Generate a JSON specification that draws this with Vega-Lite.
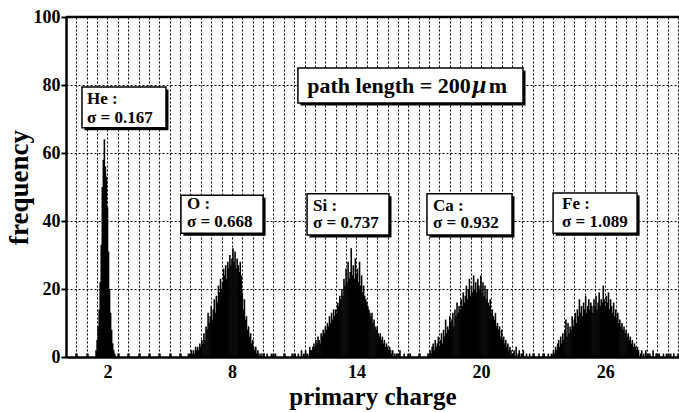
{
  "$schema": "https://vega.github.io/schema/vega-lite/v6.json",
  "width": 613,
  "height": 340,
  "autosize": {"type": "none"},
  "padding": {"left": 66, "top": 17, "right": 0, "bottom": 55},
  "background": "white",
  "config": {
    "view": {"stroke": null},
    "font": "Liberation Serif",
    "axis": {
      "grid": true, "gridDash": [2, 2], "gridColor": "black", "gridOpacity": 1, "gridWidth": 1,
      "tickColor": "black", "domainColor": "black", "domainWidth": 2.5,
      "labelFont": "Liberation Serif", "labelFontWeight": "bold", "labelFontSize": 18, "labelColor": "black",
      "titleFont": "Liberation Serif", "titleFontWeight": "bold", "titleFontSize": 25, "titleColor": "black"
    }
  },
  "datasets": {
    "counts": [
      {"z":1.45,"n":2},{"z":1.5,"n":5},{"z":1.55,"n":9},{"z":1.6,"n":14},{"z":1.65,"n":22},{"z":1.7,"n":33},{"z":1.75,"n":50},{"z":1.8,"n":58},{"z":1.85,"n":64},{"z":1.9,"n":56},{"z":1.95,"n":53},{"z":2.0,"n":44},{"z":2.05,"n":31},{"z":2.1,"n":20},{"z":2.15,"n":13},{"z":2.2,"n":8},{"z":2.25,"n":4},{"z":2.3,"n":2},{"z":2.35,"n":1},
      {"z":5.9,"n":1},{"z":6.0,"n":1},{"z":6.05,"n":2},{"z":6.1,"n":1},{"z":6.15,"n":2},{"z":6.2,"n":1},{"z":6.25,"n":3},{"z":6.3,"n":2},{"z":6.35,"n":3},{"z":6.4,"n":2},{"z":6.45,"n":4},{"z":6.5,"n":3},{"z":6.55,"n":5},{"z":6.6,"n":4},{"z":6.65,"n":7},{"z":6.7,"n":5},{"z":6.75,"n":9},{"z":6.8,"n":8},{"z":6.85,"n":13},{"z":6.9,"n":10},{"z":6.95,"n":12},{"z":7.0,"n":15},{"z":7.05,"n":11},{"z":7.1,"n":14},{"z":7.15,"n":17},{"z":7.2,"n":13},{"z":7.25,"n":18},{"z":7.3,"n":16},{"z":7.35,"n":21},{"z":7.4,"n":19},{"z":7.45,"n":23},{"z":7.5,"n":20},{"z":7.55,"n":22},{"z":7.6,"n":26},{"z":7.65,"n":24},{"z":7.7,"n":27},{"z":7.75,"n":23},{"z":7.8,"n":28},{"z":7.85,"n":26},{"z":7.9,"n":30},{"z":7.95,"n":27},{"z":8.0,"n":29},{"z":8.05,"n":32},{"z":8.1,"n":28},{"z":8.15,"n":31},{"z":8.2,"n":26},{"z":8.25,"n":29},{"z":8.3,"n":27},{"z":8.35,"n":25},{"z":8.4,"n":28},{"z":8.45,"n":24},{"z":8.5,"n":19},{"z":8.55,"n":14},{"z":8.6,"n":17},{"z":8.65,"n":11},{"z":8.7,"n":12},{"z":8.75,"n":8},{"z":8.8,"n":9},{"z":8.85,"n":6},{"z":8.9,"n":7},{"z":8.95,"n":4},{"z":9.0,"n":5},{"z":9.05,"n":3},{"z":9.1,"n":2},{"z":9.15,"n":3},{"z":9.2,"n":1},{"z":9.25,"n":2},{"z":9.3,"n":1},{"z":9.4,"n":1},{"z":9.55,"n":1},{"z":9.7,"n":1},{"z":9.9,"n":1},{"z":10.1,"n":1},
      {"z":10.9,"n":1},{"z":11.05,"n":1},{"z":11.2,"n":1},{"z":11.35,"n":2},{"z":11.45,"n":1},{"z":11.55,"n":2},{"z":11.65,"n":1},{"z":11.75,"n":3},{"z":11.8,"n":2},{"z":11.85,"n":2},{"z":11.9,"n":3},{"z":11.95,"n":4},{"z":12.0,"n":3},{"z":12.05,"n":5},{"z":12.1,"n":4},{"z":12.15,"n":6},{"z":12.2,"n":5},{"z":12.25,"n":4},{"z":12.3,"n":7},{"z":12.35,"n":6},{"z":12.4,"n":8},{"z":12.45,"n":7},{"z":12.5,"n":9},{"z":12.55,"n":8},{"z":12.6,"n":10},{"z":12.65,"n":9},{"z":12.7,"n":12},{"z":12.75,"n":10},{"z":12.8,"n":13},{"z":12.85,"n":11},{"z":12.9,"n":14},{"z":12.95,"n":12},{"z":13.0,"n":14},{"z":13.05,"n":13},{"z":13.1,"n":16},{"z":13.15,"n":15},{"z":13.2,"n":18},{"z":13.25,"n":17},{"z":13.3,"n":20},{"z":13.35,"n":18},{"z":13.4,"n":23},{"z":13.45,"n":21},{"z":13.5,"n":26},{"z":13.55,"n":22},{"z":13.6,"n":28},{"z":13.65,"n":23},{"z":13.7,"n":25},{"z":13.75,"n":32},{"z":13.8,"n":24},{"z":13.85,"n":27},{"z":13.9,"n":23},{"z":13.95,"n":29},{"z":14.0,"n":24},{"z":14.05,"n":26},{"z":14.1,"n":22},{"z":14.15,"n":28},{"z":14.2,"n":21},{"z":14.25,"n":24},{"z":14.3,"n":19},{"z":14.35,"n":21},{"z":14.4,"n":18},{"z":14.45,"n":17},{"z":14.5,"n":16},{"z":14.55,"n":15},{"z":14.6,"n":14},{"z":14.65,"n":13},{"z":14.7,"n":12},{"z":14.75,"n":13},{"z":14.8,"n":10},{"z":14.85,"n":11},{"z":14.9,"n":9},{"z":14.95,"n":8},{"z":15.0,"n":9},{"z":15.05,"n":7},{"z":15.1,"n":6},{"z":15.15,"n":7},{"z":15.2,"n":5},{"z":15.25,"n":6},{"z":15.3,"n":4},{"z":15.35,"n":5},{"z":15.4,"n":3},{"z":15.45,"n":4},{"z":15.5,"n":3},{"z":15.55,"n":2},{"z":15.6,"n":3},{"z":15.65,"n":2},{"z":15.7,"n":1},{"z":15.75,"n":2},{"z":15.85,"n":1},{"z":15.95,"n":1},{"z":16.1,"n":2},{"z":16.3,"n":1},{"z":16.6,"n":1},
      {"z":17.45,"n":1},{"z":17.55,"n":2},{"z":17.6,"n":1},{"z":17.65,"n":3},{"z":17.7,"n":4},{"z":17.75,"n":2},{"z":17.8,"n":5},{"z":17.85,"n":3},{"z":17.9,"n":4},{"z":17.95,"n":6},{"z":18.0,"n":3},{"z":18.05,"n":5},{"z":18.1,"n":7},{"z":18.15,"n":4},{"z":18.2,"n":8},{"z":18.25,"n":6},{"z":18.3,"n":11},{"z":18.35,"n":7},{"z":18.4,"n":9},{"z":18.45,"n":8},{"z":18.5,"n":12},{"z":18.55,"n":10},{"z":18.6,"n":11},{"z":18.65,"n":13},{"z":18.7,"n":9},{"z":18.75,"n":14},{"z":18.8,"n":12},{"z":18.85,"n":16},{"z":18.9,"n":13},{"z":18.95,"n":15},{"z":19.0,"n":14},{"z":19.05,"n":17},{"z":19.1,"n":15},{"z":19.15,"n":19},{"z":19.2,"n":16},{"z":19.25,"n":18},{"z":19.3,"n":21},{"z":19.35,"n":17},{"z":19.4,"n":20},{"z":19.45,"n":23},{"z":19.5,"n":18},{"z":19.55,"n":21},{"z":19.6,"n":19},{"z":19.65,"n":24},{"z":19.7,"n":20},{"z":19.75,"n":22},{"z":19.8,"n":19},{"z":19.85,"n":23},{"z":19.9,"n":21},{"z":19.95,"n":20},{"z":20.0,"n":24},{"z":20.05,"n":19},{"z":20.1,"n":22},{"z":20.15,"n":18},{"z":20.2,"n":21},{"z":20.25,"n":17},{"z":20.3,"n":20},{"z":20.35,"n":16},{"z":20.4,"n":15},{"z":20.45,"n":17},{"z":20.5,"n":13},{"z":20.55,"n":14},{"z":20.6,"n":12},{"z":20.65,"n":11},{"z":20.7,"n":13},{"z":20.75,"n":9},{"z":20.8,"n":10},{"z":20.85,"n":8},{"z":20.9,"n":9},{"z":20.95,"n":6},{"z":21.0,"n":8},{"z":21.05,"n":5},{"z":21.1,"n":6},{"z":21.15,"n":4},{"z":21.2,"n":5},{"z":21.25,"n":3},{"z":21.3,"n":4},{"z":21.35,"n":2},{"z":21.4,"n":3},{"z":21.45,"n":2},{"z":21.55,"n":1},{"z":21.6,"n":2},{"z":21.7,"n":3},{"z":21.8,"n":1},{"z":21.85,"n":2},{"z":21.95,"n":1},{"z":22.05,"n":2},{"z":22.2,"n":1},{"z":22.35,"n":1},{"z":22.55,"n":1},{"z":22.8,"n":1},{"z":23.05,"n":1},{"z":23.25,"n":1},
      {"z":23.4,"n":1},{"z":23.5,"n":2},{"z":23.55,"n":1},{"z":23.6,"n":3},{"z":23.65,"n":2},{"z":23.7,"n":4},{"z":23.75,"n":5},{"z":23.8,"n":3},{"z":23.85,"n":6},{"z":23.9,"n":4},{"z":23.95,"n":7},{"z":24.0,"n":5},{"z":24.05,"n":8},{"z":24.1,"n":11},{"z":24.15,"n":6},{"z":24.2,"n":10},{"z":24.25,"n":7},{"z":24.3,"n":9},{"z":24.35,"n":8},{"z":24.4,"n":12},{"z":24.45,"n":9},{"z":24.5,"n":11},{"z":24.55,"n":13},{"z":24.6,"n":10},{"z":24.65,"n":14},{"z":24.7,"n":12},{"z":24.75,"n":17},{"z":24.8,"n":13},{"z":24.85,"n":15},{"z":24.9,"n":12},{"z":24.95,"n":16},{"z":25.0,"n":14},{"z":25.05,"n":18},{"z":25.1,"n":13},{"z":25.15,"n":15},{"z":25.2,"n":17},{"z":25.25,"n":14},{"z":25.3,"n":16},{"z":25.35,"n":15},{"z":25.4,"n":13},{"z":25.45,"n":17},{"z":25.5,"n":15},{"z":25.55,"n":18},{"z":25.6,"n":14},{"z":25.65,"n":16},{"z":25.7,"n":19},{"z":25.75,"n":15},{"z":25.8,"n":17},{"z":25.85,"n":16},{"z":25.9,"n":21},{"z":25.95,"n":17},{"z":26.0,"n":15},{"z":26.05,"n":18},{"z":26.1,"n":16},{"z":26.15,"n":19},{"z":26.2,"n":14},{"z":26.25,"n":17},{"z":26.3,"n":15},{"z":26.35,"n":13},{"z":26.4,"n":16},{"z":26.45,"n":12},{"z":26.5,"n":14},{"z":26.55,"n":11},{"z":26.6,"n":13},{"z":26.65,"n":10},{"z":26.7,"n":11},{"z":26.75,"n":9},{"z":26.8,"n":10},{"z":26.85,"n":8},{"z":26.9,"n":9},{"z":26.95,"n":7},{"z":27.0,"n":8},{"z":27.05,"n":6},{"z":27.1,"n":7},{"z":27.15,"n":5},{"z":27.2,"n":6},{"z":27.25,"n":4},{"z":27.3,"n":5},{"z":27.35,"n":3},{"z":27.4,"n":4},{"z":27.45,"n":3},{"z":27.5,"n":2},{"z":27.55,"n":3},{"z":27.6,"n":2},{"z":27.7,"n":1},{"z":27.75,"n":2},{"z":27.85,"n":1},{"z":27.95,"n":2},{"z":28.05,"n":1},{"z":28.15,"n":1},{"z":28.3,"n":2},{"z":28.45,"n":1},{"z":28.6,"n":1},{"z":28.8,"n":1},{"z":28.95,"n":1},{"z":29.15,"n":1},{"z":29.3,"n":1}
    ],
    "boxes": [
      {"z":0.77,"z2":4.82,"n":79.4,"n2":67.4},
      {"z":5.54,"z2":9.5,"n":47.6,"n2":36.4},
      {"z":11.62,"z2":15.57,"n":48.0,"n2":35.9},
      {"z":17.4,"z2":21.5,"n":48.0,"n2":35.9},
      {"z":23.48,"z2":27.53,"n":48.2,"n2":36.4},
      {"z":11.18,"z2":22.03,"n":85.0,"n2":74.7}
    ],
    "notes": [
      {"z":1.01,"n":74.3,"t":"He :"},
      {"z":1.01,"n":68.9,"t":"σ = 0.167"},
      {"z":5.83,"n":43.5,"t":"O :"},
      {"z":5.83,"n":38.2,"t":"σ = 0.668"},
      {"z":11.91,"n":42.9,"t":"Si :"},
      {"z":11.91,"n":37.8,"t":"σ = 0.737"},
      {"z":17.69,"n":42.9,"t":"Ca :"},
      {"z":17.69,"n":37.8,"t":"σ = 0.932"},
      {"z":23.91,"n":43.5,"t":"Fe :"},
      {"z":23.91,"n":38.1,"t":"σ = 1.089"}
    ],
    "caption": [
      {"z":11.63,"n":77.7,"t":"path length = 200"},
      {"z":20.38,"n":77.7,"t":"m"}
    ],
    "unit": [
      {"z":19.6,"n":77.7,"t":"μ"}
    ],
    "frame": [
      {"n":100}
    ]
  },
  "encoding": {
    "x": {
      "field": "z", "type": "quantitative",
      "scale": {"domain": [0, 29.55], "nice": false, "zero": false},
      "axis": {
        "title": "primary charge",
        "values": [0.5,1,1.5,2,2.5,3,3.5,4,4.5,5,5.5,6,6.5,7,7.5,8,8.5,9,9.5,10,10.5,11,11.5,12,12.5,13,13.5,14,14.5,15,15.5,16,16.5,17,17.5,18,18.5,19,19.5,20,20.5,21,21.5,22,22.5,23,23.5,24,24.5,25,25.5,26,26.5,27,27.5,28,28.5,29,29.5],
        "labelExpr": "indexof([2,8,14,20,26], datum.value) >= 0 ? '' + datum.value : ''",
        "labelOverlap": false,
        "labelFlush": false,
        "tickSize": -4, "tickWidth": 2.5,
        "labelPadding": 10,
        "titlePadding": 3
      }
    },
    "y": {
      "field": "n", "type": "quantitative",
      "scale": {"domain": [0, 100], "nice": false, "zero": false},
      "axis": {
        "title": "frequency",
        "titleFontSize": 27,
        "values": [0, 20, 40, 60, 80, 100],
        "tickSize": 5, "tickWidth": 2,
        "labelPadding": 1,
        "titlePadding": 0
      }
    }
  },
  "layer": [
    {
      "data": {"name": "counts"},
      "mark": {"type": "rule", "color": "black", "strokeWidth": 1.6},
      "encoding": {
        "y2": {"datum": 0}
      }
    },
    {
      "data": {"name": "frame"},
      "mark": {"type": "rule", "color": "black", "strokeWidth": 2.5},
      "encoding": {
        "x": null
      }
    },
    {
      "data": {"name": "boxes"},
      "mark": {"type": "rect", "fill": "black", "xOffset": 2.5, "x2Offset": 2.5, "yOffset": 2.5, "y2Offset": 2.5},
      "encoding": {
        "x2": {"field": "z2"},
        "y2": {"field": "n2"}
      }
    },
    {
      "data": {"name": "boxes"},
      "mark": {"type": "rect", "fill": "white", "stroke": "black", "strokeWidth": 1.5},
      "encoding": {
        "x2": {"field": "z2"},
        "y2": {"field": "n2"}
      }
    },
    {
      "data": {"name": "notes"},
      "mark": {"type": "text", "align": "left", "baseline": "alphabetic", "font": "Liberation Serif", "fontWeight": "bold", "fontSize": 17, "color": "black"},
      "encoding": {
        "text": {"field": "t"}
      }
    },
    {
      "data": {"name": "caption"},
      "mark": {"type": "text", "align": "left", "baseline": "alphabetic", "font": "Liberation Serif", "fontWeight": "bold", "fontSize": 22, "color": "black"},
      "encoding": {
        "text": {"field": "t"}
      }
    },
    {
      "data": {"name": "unit"},
      "mark": {"type": "text", "align": "left", "baseline": "alphabetic", "font": "Liberation Serif", "fontWeight": "bold", "fontStyle": "italic", "fontSize": 25, "color": "black"},
      "encoding": {
        "text": {"field": "t"}
      }
    }
  ]
}
